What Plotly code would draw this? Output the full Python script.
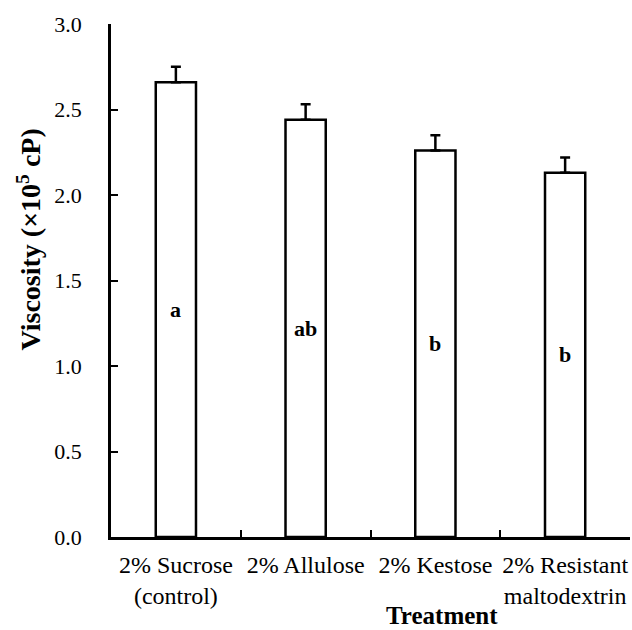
import plotly.graph_objects as go

categories = ["2% Sucrose<br>(control)", "2% Allulose", "2% Kestose", "2% Resistant<br>maltodextrin"]
viscosity = [2.66, 2.44, 2.26, 2.13]
errors = [0.09, 0.09, 0.09, 0.09]
letters = ["a", "ab", "b", "b"]
y_ticks = [0.0, 0.5, 1.0, 1.5, 2.0, 2.5, 3.0]

FONT = "Liberation Serif"

fig = go.Figure()
fig.add_trace(go.Bar(
    x=categories,
    y=viscosity,
    width=0.31,
    marker=dict(color="white", line=dict(color="black", width=2.5)),
    error_y=dict(type="data", symmetric=False, array=errors,
                 arrayminus=[0] * len(errors),
                 color="black", thickness=2.5, width=5),
    showlegend=False,
))

for c, v, l in zip(categories, viscosity, letters):
    fig.add_annotation(x=c, y=v / 2, text="<b>%s</b>" % l, showarrow=False,
                       font=dict(family=FONT, size=22, color="black"),
                       xanchor="center", yanchor="middle")

fig.add_annotation(xref="paper", yref="paper", x=(29 - 111) / 519, y=0.58,
                   text="<b>Viscosity (×10<sup>5</sup> cP)</b>", textangle=-90,
                   showarrow=False, xanchor="center", yanchor="middle",
                   font=dict(family=FONT, size=28, color="black"))
fig.add_annotation(xref="paper", yref="paper", x=(442 - 111) / 519,
                   y=(537.3 - 630) / 513.3,
                   text="<b>Treatment</b>", showarrow=False,
                   xanchor="center", yanchor="bottom", borderpad=0,
                   font=dict(family=FONT, size=25, color="black"))

fig.update_layout(
    template="none",
    width=632, height=630,
    margin=dict(l=111, r=2, t=24, b=93, pad=0),
    plot_bgcolor="white", paper_bgcolor="white",
    font=dict(family=FONT, size=22, color="black"),
)
fig.update_xaxes(
    automargin=False, tickangle=0,
    showline=True, linecolor="black", linewidth=2.5,
    ticks="inside", ticklen=7, tickwidth=2, tickcolor="black",
    tickson="boundaries", showgrid=False,
    ticklabelstandoff=4,
    tickfont=dict(family=FONT, size=24, color="black"),
)
fig.update_yaxes(
    automargin=False,
    range=[0, 3], showline=True, linecolor="black", linewidth=2.5,
    ticks="inside", ticklen=7, tickwidth=2, tickcolor="black",
    tickvals=y_ticks, ticktext=["%.1f" % t for t in y_ticks],
    showgrid=False, zeroline=False, ticklabelstandoff=22,
    tickfont=dict(family=FONT, size=22, color="black"),
)

fig.write_html("out.html", config={"displayModeBar": False},
               post_script="document.body.style.margin='0';document.body.style.padding='0';")
